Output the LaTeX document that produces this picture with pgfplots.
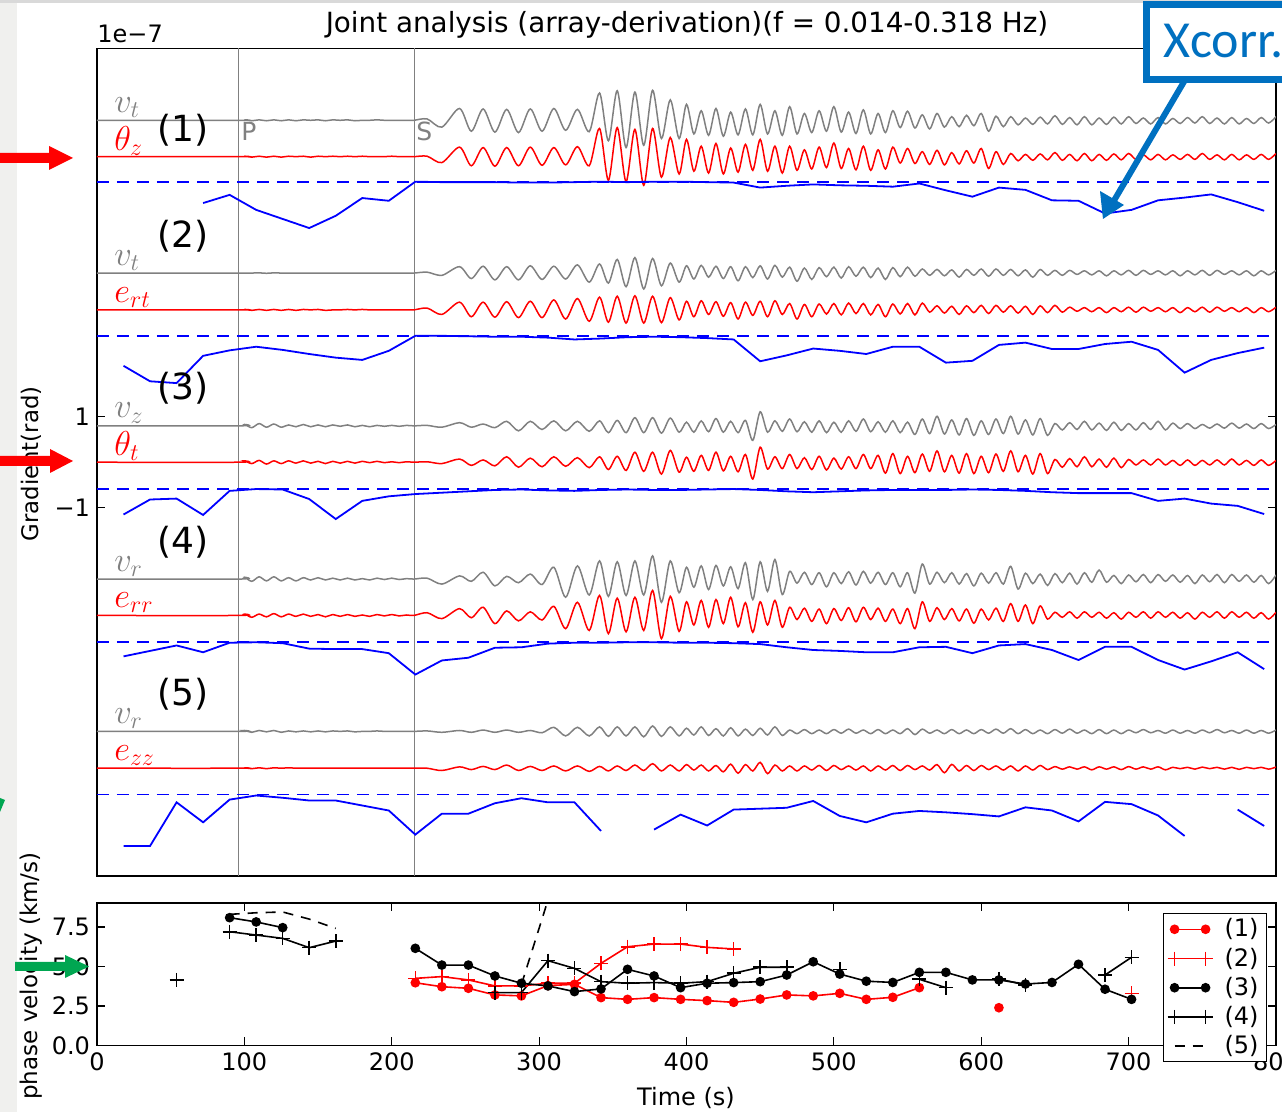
\documentclass[border=0pt]{standalone}
\usepackage{fontspec}
\setmainfont{DejaVu Sans}
\newfontfamily\carlito{Carlito}
\usepackage{pgfplots}
\pgfplotsset{compat=1.18}
\usepackage{pgfplotstable}

\definecolor{mgray}{gray}{0.5}
\definecolor{pblue}{RGB}{0,0,255}
\definecolor{pred}{RGB}{255,0,0}
\definecolor{xblue}{RGB}{0,112,192}
\definecolor{agreen}{RGB}{0,166,81}
\definecolor{strip}{RGB}{240,240,238}

% trace deviations: a v_t(1), b theta_z, c v_t(2), d e_rt, e v_z, f theta_t,
% g v_r(4), h e_rr, i v_r(5), j e_zz
\pgfplotstableread{
t a b c d e f g h i j
0 0 0 0 0 0 0 0 0 0 0
96 0 0 0 0 0 0 0 0 0 0
100 0.01 0.01 0 0.01 0.03 0.03 0.04 0.03 0.02 0.01
105 -0.01 -0.01 0 -0.01 -0.04 -0.03 -0.05 -0.04 -0.02 -0.01
110 0.01 0.01 0.005 0.01 0.05 0.04 0.05 0.03 0.02 0.01
115 -0.01 -0.01 -0.005 -0.01 -0.03 -0.04 -0.04 -0.03 -0.01 -0.01
120 0.01 0.01 0.005 0.01 0.04 0.03 0.05 0.04 0.02 0.01
125 -0.01 -0.01 0 -0.01 -0.03 -0.03 -0.04 -0.03 -0.02 0
130 0.01 0.01 0 0.01 0.02 0.03 0.03 0.03 0.01 0.01
135 -0.01 0 0 -0.01 -0.02 -0.02 -0.04 -0.02 -0.01 0
140 0.01 0.01 0 0.01 0.03 0.03 0.03 0.03 0.01 0
145 0 -0.01 0 0 -0.02 -0.02 -0.02 -0.02 -0.01 0
150 0.01 0.01 0 0.01 0.02 0.02 0.03 0.02 0.01 0
155 -0.01 0 0 -0.01 -0.02 -0.03 -0.02 -0.03 -0.01 0
160 0.01 0.01 0 0 0.02 0.02 0.02 0.02 0.01 0
165 0 0 0 0 -0.01 -0.02 -0.02 -0.02 0 0
170 0.01 0.01 0 0.01 0.02 0.02 0.02 0.02 0.01 0
175 -0.01 0 0 0 -0.02 -0.02 -0.02 -0.02 -0.01 0
180 0 0.01 0 0.01 0.01 0.02 0.01 0.01 0 0
185 0 0 0 0 -0.02 -0.01 -0.02 -0.02 0 0
190 0.01 0 0 0 0.01 0.02 0.02 0.02 0.01 0
195 0 0 0 0 -0.01 -0.01 -0.01 -0.01 0 0
200 0 0.01 0 0 0.01 0.01 0.02 0.02 0 0
205 0 0 0 0 -0.01 -0.01 -0.01 -0.01 0 0
210 0 0 0 0 0.01 0.01 0.01 0.01 0 0
215 0 0 0 0 0 0 0 0 0 0
224 0.03 0.01 0.02 0.04 0.01 0.01 0.02 0.06 0.01 0
234 -0.15 -0.13 -0.05 -0.10 -0.03 -0.03 -0.11 -0.07 -0.02 -0.05
246 0.26 0.21 0.14 0.17 0.07 0.07 0.07 0.15 0.02 0.03
254 -0.24 -0.20 -0.12 -0.15 -0.03 -0.07 -0.05 -0.05 -0.02 -0.03
262 0.25 0.20 0.15 0.17 0.04 0.05 0.15 0.18 0.03 0.04
270 -0.26 -0.21 -0.15 -0.16 -0.04 -0.08 -0.15 -0.18 -0.02 -0.03
278 0.24 0.20 0.14 0.18 0.10 0.12 0.06 0.10 0.03 0.07
286 -0.27 -0.20 -0.15 -0.17 -0.11 -0.11 -0.08 -0.12 -0.02 -0.05
294 0.25 0.21 0.16 0.19 0.10 0.09 0.11 0.08 0.02 0.04
302 -0.24 -0.19 -0.14 -0.17 -0.08 -0.10 -0.12 -0.10 -0.03 -0.05
310 0.26 0.20 0.15 0.22 0.11 0.12 0.26 0.20 0.09 0.05
318 -0.22 -0.18 -0.13 -0.20 -0.11 -0.09 -0.40 -0.29 -0.10 -0.06
326 0.24 0.22 0.18 0.25 0.10 0.10 0.29 0.29 0.09 0.05
334 -0.25 -0.20 -0.20 -0.25 -0.12 -0.12 -0.35 -0.33 -0.10 -0.07
341 0.60 0.62 0.20 0.28 0.11 0.12 0.40 0.44 0.10 0.04
347 -0.45 -0.52 -0.22 -0.27 -0.15 -0.16 -0.38 -0.40 -0.11 -0.06
353 0.65 0.64 0.30 0.30 0.12 0.13 0.38 0.38 0.10 0.05
359 -0.60 -0.55 -0.30 -0.29 -0.15 -0.18 -0.36 -0.36 -0.10 -0.05
365 0.62 0.60 0.34 0.31 0.18 0.22 0.40 0.40 0.10 0.07
371 -0.55 -0.63 -0.35 -0.29 -0.15 -0.20 -0.35 -0.33 -0.12 -0.05
377 0.66 0.62 0.32 0.30 0.18 0.22 0.51 0.55 0.12 0.10
383 -0.40 -0.45 -0.28 -0.28 -0.16 -0.26 -0.51 -0.51 -0.11 -0.06
389 0.45 0.42 0.22 0.27 0.17 0.26 0.40 0.42 0.10 0.07
395 -0.40 -0.38 -0.20 -0.22 -0.14 -0.22 -0.30 -0.35 -0.10 -0.06
400 0.35 0.38 0.16 0.19 0.08 0.11 0.26 0.30 0.07 0.08
405 -0.30 -0.32 -0.13 -0.15 -0.14 -0.20 -0.18 -0.21 -0.08 -0.04
410 0.21 0.23 0.17 0.20 0.11 0.15 0.29 0.33 0.10 0.07
415 -0.33 -0.36 -0.09 -0.10 -0.13 -0.18 -0.23 -0.26 -0.09 -0.06
420 0.26 0.29 0.15 0.18 0.16 0.22 0.30 0.35 0.06 0.06
425 -0.35 -0.38 -0.12 -0.14 -0.14 -0.19 -0.15 -0.18 -0.10 -0.08
430 0.18 0.19 0.14 0.16 0.10 0.13 0.27 0.40 0.08 0.09
435 -0.32 -0.34 -0.17 -0.20 -0.15 -0.21 -0.21 -0.25 -0.10 -0.11
440 0.25 0.27 0.14 0.17 0.12 0.17 0.36 0.28 0.05 0.08
445 -0.32 -0.30 -0.10 -0.12 -0.32 -0.37 -0.45 -0.37 -0.09 -0.06
450 0.35 0.38 0.16 0.19 0.31 0.33 0.38 0.30 0.07 0.13
455 -0.30 -0.32 -0.13 -0.15 -0.14 -0.15 -0.27 -0.21 -0.08 -0.12
460 0.21 0.23 0.17 0.20 0.11 0.12 0.43 0.33 0.10 0.07
465 -0.33 -0.36 -0.09 -0.10 -0.12 -0.14 -0.34 -0.26 -0.09 -0.06
470 0.30 0.23 0.13 0.14 0.15 0.17 0.17 0.18 0.03 0.05
475 -0.30 -0.30 -0.18 -0.20 -0.13 -0.14 -0.09 -0.09 -0.05 -0.06
480 0.15 0.15 0.11 0.12 0.09 0.10 0.15 0.16 0.04 0.05
485 -0.27 -0.27 -0.14 -0.15 -0.14 -0.16 -0.12 -0.13 -0.05 -0.04
490 0.21 0.21 0.12 0.13 0.11 0.13 0.14 0.14 0.03 0.06
495 -0.24 -0.24 -0.08 -0.09 -0.15 -0.17 -0.17 -0.18 -0.05 -0.05
500 0.30 0.30 0.13 0.14 0.08 0.09 0.14 0.15 0.04 0.06
505 -0.26 -0.26 -0.11 -0.11 -0.14 -0.15 -0.10 -0.11 -0.04 -0.03
510 0.18 0.18 0.14 0.15 0.11 0.12 0.16 0.17 0.05 0.05
515 -0.29 -0.29 -0.07 -0.08 -0.12 -0.14 -0.13 -0.14 -0.04 -0.04
520 0.23 0.23 0.13 0.14 0.15 0.17 0.17 0.18 0.03 0.05
525 -0.30 -0.30 -0.10 -0.11 -0.13 -0.14 -0.09 -0.09 -0.05 -0.06
530 0.15 0.15 0.11 0.12 0.09 0.15 0.15 0.16 0.04 0.05
535 -0.27 -0.27 -0.14 -0.15 -0.14 -0.24 -0.12 -0.13 -0.05 -0.04
540 0.21 0.21 0.12 0.13 0.11 0.19 0.14 0.14 0.03 0.06
545 -0.16 -0.14 -0.08 -0.09 -0.15 -0.25 -0.17 -0.18 -0.05 -0.05
550 0.20 0.18 0.13 0.14 0.08 0.13 0.14 0.15 0.06 0.06
555 -0.17 -0.15 -0.07 -0.11 -0.19 -0.23 -0.31 -0.29 -0.07 -0.03
560 0.12 0.11 0.09 0.15 0.15 0.18 0.33 0.30 0.05 0.05
565 -0.19 -0.17 -0.05 -0.05 -0.17 -0.20 -0.11 -0.13 -0.04 -0.04
570 0.15 0.14 0.08 0.09 0.21 0.25 0.15 0.17 0.03 0.08
575 -0.15 -0.18 -0.06 -0.07 -0.18 -0.21 -0.08 -0.09 -0.05 -0.10
580 0.08 0.09 0.07 0.08 0.13 0.15 0.14 0.15 0.04 0.085
585 -0.14 -0.16 -0.09 -0.10 -0.20 -0.24 -0.11 -0.12 -0.05 -0.06
590 0.11 0.13 0.08 0.09 0.16 0.19 0.12 0.14 0.03 0.06
595 -0.12 -0.14 -0.05 -0.06 -0.21 -0.25 -0.15 -0.17 -0.05 -0.05
600 0.15 0.18 0.09 0.10 0.11 0.13 0.13 0.14 0.04 0.06
605 -0.24 -0.26 -0.07 -0.08 -0.19 -0.23 -0.09 -0.10 -0.04 -0.03
610 0.09 0.11 0.09 0.10 0.15 0.18 0.14 0.16 0.05 0.05
615 -0.14 -0.17 -0.05 -0.05 -0.17 -0.20 -0.11 -0.13 -0.04 -0.04
620 0.08 0.07 0.08 0.09 0.21 0.25 0.28 0.26 0.06 0.05
625 -0.10 -0.09 -0.06 -0.07 -0.18 -0.21 -0.22 -0.13 -0.05 -0.06
630 0.05 0.05 0.07 0.08 0.13 0.15 0.13 0.23 0.04 0.05
635 -0.09 -0.08 -0.09 -0.10 -0.20 -0.26 -0.10 -0.18 -0.05 -0.04
640 0.07 0.06 0.08 0.09 0.16 0.19 0.11 0.21 0.03 0.06
645 -0.08 -0.07 -0.05 -0.06 -0.21 -0.25 -0.14 -0.08 -0.05 -0.03
650 0.10 0.09 0.06 0.10 0.05 0.06 0.12 0.07 0.04 0.035
655 -0.09 -0.08 -0.05 -0.05 -0.09 -0.11 -0.08 -0.04 -0.04 -0.02
660 0.06 0.05 0.06 0.06 0.07 0.08 0.13 0.08 0.05 0.03
665 -0.10 -0.09 -0.03 -0.03 -0.08 -0.10 -0.11 -0.06 -0.04 -0.02
670 0.08 0.07 0.05 0.05 0.10 0.12 0.14 0.08 0.03 0.03
675 -0.10 -0.09 -0.04 -0.04 -0.09 -0.10 -0.07 -0.04 -0.05 -0.035
680 0.05 0.05 0.05 0.05 0.06 0.07 0.20 0.07 0.04 0.03
685 -0.09 -0.08 -0.06 -0.06 -0.10 -0.11 -0.07 -0.06 -0.05 -0.02
690 0.07 0.06 0.05 0.05 0.08 0.09 0.08 0.06 0.03 0.03
695 -0.08 -0.07 -0.04 -0.04 -0.10 -0.12 -0.10 -0.08 -0.05 -0.03
700 0.08 0.07 0.06 0.06 0.05 0.06 0.09 0.07 0.03 0.035
705 -0.07 -0.06 -0.05 -0.05 -0.09 -0.06 -0.06 -0.04 -0.03 -0.02
710 0.05 0.04 0.06 0.06 0.07 0.05 0.10 0.08 0.04 0.03
715 -0.08 -0.07 -0.03 -0.03 -0.08 -0.06 -0.08 -0.06 -0.03 -0.02
720 0.06 0.05 0.05 0.05 0.10 0.07 0.10 0.08 0.02 0.03
725 -0.08 -0.07 -0.04 -0.04 -0.09 -0.06 -0.05 -0.04 -0.04 -0.035
730 0.04 0.04 0.05 0.05 0.06 0.04 0.09 0.07 0.03 0.02
735 -0.07 -0.06 -0.06 -0.06 -0.06 -0.07 -0.07 -0.06 -0.04 -0.01
740 0.06 0.05 0.05 0.05 0.05 0.05 0.08 0.06 0.02 0.02
745 -0.06 -0.06 -0.04 -0.04 -0.06 -0.07 -0.10 -0.08 -0.04 -0.02
750 0.08 0.07 0.06 0.06 0.03 0.04 0.09 0.07 0.03 0.025
755 -0.07 -0.06 -0.05 -0.05 -0.05 -0.06 -0.06 -0.04 -0.03 -0.01
760 0.05 0.04 0.06 0.06 0.04 0.05 0.10 0.08 0.04 0.02
765 -0.08 -0.07 -0.03 -0.03 -0.05 -0.06 -0.08 -0.06 -0.03 -0.02
770 0.06 0.05 0.05 0.05 0.06 0.07 0.10 0.08 0.02 0.02
775 -0.08 -0.07 -0.04 -0.04 -0.05 -0.06 -0.05 -0.04 -0.04 -0.025
780 0.04 0.04 0.05 0.05 0.04 0.04 0.09 0.07 0.03 0.02
785 -0.07 -0.06 -0.06 -0.06 -0.06 -0.07 -0.07 -0.06 -0.04 -0.01
790 0.06 0.05 0.05 0.05 0.05 0.05 0.08 0.06 0.02 0.02
795 -0.06 -0.06 -0.04 -0.04 -0.06 -0.07 -0.10 -0.08 -0.04 -0.02
800 0.08 0.07 0.06 0.06 0.03 0.04 0.09 0.07 0.03 0.025
}\waves

\begin{document}
\begin{tikzpicture}[x=0.5pt,y=0.5pt]
\fill[strip] (0,0) rectangle (17,1112);
\fill[gray!30] (0,1108.5) rectangle (1282,1112);

% ---------------- top panel ----------------
\begin{axis}[
    at={(48.5pt,118pt)}, anchor=south west, scale only axis,
    width=589.5pt, height=413.75pt,
    xmin=0, xmax=800, ymin=-9.1, ymax=9.1,
    xtick=\empty, ytick={-1,1}, yticklabels={−1,1},
    tick align=inside, ytick pos=both, major tick length=4pt,
    tick style={black, line width=0.6pt},
    axis line style={black, line width=0.8pt},
    tick label style={font=\fontsize{12}{14}\selectfont},
    unbounded coords=jump,
    xcorr/.style={pblue, line width=0.9pt},
    ones/.style={pblue, line width=0.85pt, dash pattern=on 6pt off 4pt},
]
% P and S picks
\addplot[mgray, line width=0.8pt] coordinates {(96,-9.1) (96,9.1)};
\addplot[mgray, line width=0.8pt] coordinates {(215.5,-9.1) (215.5,9.1)};

% (1)
\addplot[mgray, line width=0.75pt, smooth] table[x=t, y expr=\thisrow{a}+7.52] {\waves};
\addplot[pred, line width=0.75pt, smooth] table[x=t, y expr=\thisrow{b}+6.72] {\waves};
\addplot[xcorr] coordinates {
(72,5.70)(90,5.88)(108,5.55)(126,5.35)(144,5.15)(162,5.42)(180,5.81)(198,5.75)
(216,6.17)(234,6.16)(252,6.16)(270,6.16)(288,6.15)(306,6.15)(324,6.16)(342,6.17)
(360,6.16)(378,6.17)(396,6.17)(414,6.16)(432,6.15)(450,6.04)(468,6.08)(486,6.11)
(504,6.09)(522,6.08)(540,6.06)(558,6.13)(576,5.98)(594,5.84)(612,6.04)(630,5.99)
(648,5.76)(666,5.75)(684,5.47)(702,5.55)(720,5.76)(738,5.82)(756,5.89)(774,5.72)(792,5.53)};
\addplot[ones] coordinates {(0,6.165) (800,6.165)};

% (2)
\addplot[mgray, line width=0.75pt, smooth] table[x=t, y expr=\thisrow{c}+4.16] {\waves};
\addplot[pred, line width=0.75pt, smooth] table[x=t, y expr=\thisrow{d}+3.35] {\waves};
\addplot[ones] coordinates {(0,2.78) (800,2.78)};
\addplot[xcorr] coordinates {
(18,2.12)(36,1.78)(54,1.74)(72,2.34)(90,2.46)(108,2.54)(126,2.47)(144,2.38)(162,2.30)
(180,2.25)(198,2.45)(216,2.78)(234,2.78)(252,2.77)(270,2.76)(288,2.76)(306,2.74)
(324,2.70)(342,2.72)(360,2.75)(378,2.76)(396,2.75)(414,2.73)(432,2.70)(450,2.22)
(468,2.35)(486,2.50)(504,2.45)(522,2.38)(540,2.54)(558,2.54)(576,2.19)(594,2.23)
(612,2.58)(630,2.63)(648,2.49)(666,2.49)(684,2.60)(702,2.65)(720,2.47)(738,1.97)
(756,2.25)(774,2.40)(792,2.52)};

% (3)
\addplot[mgray, line width=0.75pt, smooth] table[x=t, y expr=\thisrow{e}+0.80] {\waves};
\addplot[pred, line width=0.75pt, smooth] table[x=t, y expr=\thisrow{f}] {\waves};
\addplot[ones] coordinates {(0,-0.59) (800,-0.59)};
\addplot[xcorr] coordinates {
(18,-1.15)(36,-0.82)(54,-0.80)(72,-1.16)(90,-0.63)(108,-0.59)(126,-0.60)(144,-0.81)
(162,-1.25)(180,-0.85)(198,-0.75)(216,-0.70)(234,-0.67)(252,-0.64)(270,-0.61)(288,-0.60)
(306,-0.62)(324,-0.63)(342,-0.61)(360,-0.60)(378,-0.61)(396,-0.61)(414,-0.60)(432,-0.59)
(450,-0.61)(468,-0.64)(486,-0.66)(504,-0.64)(522,-0.62)(540,-0.61)(558,-0.61)(576,-0.61)
(594,-0.60)(612,-0.61)(630,-0.63)(648,-0.66)(666,-0.68)(684,-0.68)(702,-0.68)(720,-0.85)
(738,-0.80)(756,-0.91)(774,-0.96)(792,-1.14)};

% (4)
\addplot[mgray, line width=0.75pt, smooth] table[x=t, y expr=\thisrow{g}-2.57] {\waves};
\addplot[pred, line width=0.75pt, smooth] table[x=t, y expr=\thisrow{h}-3.37] {\waves};
\addplot[ones] coordinates {(0,-3.96) (800,-3.96)};
\addplot[xcorr] coordinates {
(18,-4.27)(36,-4.15)(54,-4.03)(72,-4.18)(90,-3.97)(108,-3.96)(126,-3.98)(144,-4.10)
(162,-4.11)(180,-4.11)(198,-4.20)(216,-4.67)(234,-4.36)(252,-4.30)(270,-4.08)(288,-4.07)
(306,-3.99)(324,-3.97)(342,-3.97)(360,-3.96)(378,-3.96)(396,-3.97)(414,-3.97)(432,-3.98)
(450,-4.00)(468,-4.07)(486,-4.13)(504,-4.15)(522,-4.18)(540,-4.18)(558,-4.07)(576,-4.06)
(594,-4.20)(612,-4.03)(630,-4.00)(648,-4.13)(666,-4.35)(684,-4.06)(702,-4.06)(720,-4.35)
(738,-4.56)(756,-4.38)(774,-4.18)(792,-4.55)};

% (5)
\addplot[mgray, line width=0.75pt, smooth] table[x=t, y expr=\thisrow{i}-5.92] {\waves};
\addplot[pred, line width=0.75pt, smooth] table[x=t, y expr=\thisrow{j}-6.73] {\waves};
\addplot[ones] coordinates {(0,-7.31) (800,-7.31)};
\addplot[xcorr] coordinates {
(18,-8.44)(36,-8.44)(54,-7.48)(72,-7.92)(90,-7.42)(108,-7.33)(126,-7.38)(144,-7.44)
(162,-7.44)(180,-7.55)(198,-7.66)(216,-8.19)(234,-7.73)(252,-7.73)(270,-7.50)(288,-7.39)
(306,-7.48)(324,-7.48)(342,-8.11)(360,nan)(378,-8.08)(396,-7.75)(414,-7.99)(432,-7.64)
(450,-7.62)(468,-7.60)(486,-7.45)(504,-7.78)(522,-7.92)(540,-7.73)(558,-7.67)(576,-7.70)
(594,-7.74)(612,-7.79)(630,-7.59)(648,-7.66)(666,-7.90)(684,-7.47)(702,-7.52)(720,-7.77)
(738,-8.22)(756,nan)(774,-7.64)(792,-8.00)};

% labels
\begin{scope}[every node/.style={anchor=south west, inner sep=0pt, font=\fontsize{17}{17}\selectfont}]
\node[text=mgray] at (axis cs:11.5,7.57) {$v_t$};
\node[text=pred]  at (axis cs:11.5,6.74) {$\theta_z$};
\node[text=mgray] at (axis cs:11.5,4.21) {$v_t$};
\node[text=pred]  at (axis cs:11.5,3.40) {$e_{rt}$};
\node[text=mgray] at (axis cs:11.5,0.85) {$v_z$};
\node[text=pred]  at (axis cs:11.5,0.03) {$\theta_t$};
\node[text=mgray] at (axis cs:11.5,-2.52) {$v_r$};
\node[text=pred]  at (axis cs:11.5,-3.32) {$e_{rr}$};
\node[text=mgray] at (axis cs:11.5,-5.87) {$v_r$};
\node[text=pred]  at (axis cs:11.5,-6.68) {$e_{zz}$};
\end{scope}
\begin{scope}[every node/.style={font=\fontsize{18}{18}\selectfont}]
\node at (axis cs:58.3,7.31) {(1)};
\node at (axis cs:58.3,4.96) {(2)};
\node at (axis cs:58.3,1.62) {(3)};
\node at (axis cs:58.3,-1.75) {(4)};
\node at (axis cs:58.3,-5.11) {(5)};
\end{scope}
\node[anchor=base west, inner sep=0pt, text=mgray, font=\fontsize{12.5}{12.5}\selectfont] at (axis cs:97.7,7.07) {P};
\node[anchor=base west, inner sep=0pt, text=mgray, font=\fontsize{12.5}{12.5}\selectfont] at (axis cs:216.4,7.07) {S};
\end{axis}

% ---------------- bottom panel ----------------
\begin{axis}[
    at={(48.5pt,33.25pt)}, anchor=south west, scale only axis,
    width=589.5pt, height=71.1pt,
    xmin=0, xmax=800, ymin=0, ymax=9,
    xtick={0,100,...,800}, xticklabels={0,100,200,300,400,500,600,700,800},
    ytick={0,2.5,5,7.5}, yticklabels={0.0,2.5,5.0,7.5},
    tick align=inside, tick pos=both, major tick length=4pt,
    tick style={black, line width=0.6pt},
    axis line style={black, line width=0.8pt},
    tick label style={font=\fontsize{12}{14}\selectfont},
    unbounded coords=jump,
    legend style={at={(1,1)}, anchor=north east, xshift=-4.5pt, yshift=-5pt,
        font=\fontsize{12}{14}\selectfont, draw=black, fill=white,
        inner xsep=2pt, inner ysep=0.5pt, row sep=0pt, column sep=4pt,
        cells={anchor=west}},
    legend image code/.code={\draw[#1] plot coordinates {(0pt,0pt) (15.5pt,0pt)};},
]
\addplot[pred, line width=0.8pt, mark=*, mark size=2pt] coordinates {
(216,3.97)(234,3.72)(252,3.62)(270,3.20)(288,3.14)(306,3.79)(324,3.87)(342,3.03)
(360,2.92)(378,3.03)(396,2.92)(414,2.84)(432,2.73)(450,2.94)(468,3.20)(486,3.14)
(504,3.30)(522,2.92)(540,3.05)(558,3.66)(576,nan)(612,2.39)};
\addlegendentry{(1)}
\addplot[pred, line width=0.8pt, mark=+, mark size=3.5pt] coordinates {
(216,4.25)(234,4.36)(252,4.15)(270,3.77)(288,3.77)(306,3.94)(324,3.94)(342,5.20)
(360,6.25)(378,6.42)(396,6.42)(414,6.21)(432,6.11)(450,nan)(702,3.30)};
\addlegendentry{(2)}
\addplot[black, line width=0.8pt, mark=*, mark size=2pt] coordinates {
(90,8.09)(108,7.82)(126,7.46)(144,nan)
(216,6.15)(234,5.09)(252,5.09)(270,4.40)(288,3.94)(306,3.77)(324,3.41)(342,3.58)
(360,4.82)(378,4.40)(396,3.66)(414,3.94)(432,3.98)(450,4.04)(468,4.46)(486,5.30)
(504,4.52)(522,4.07)(540,3.99)(558,4.63)(576,4.63)(594,4.15)(612,4.15)(630,3.89)
(648,3.99)(666,5.14)(684,3.56)(702,2.92)};
\addlegendentry{(3)}
\addplot[black, line width=0.8pt, mark=+, mark size=3.5pt] coordinates {
(54,4.15)(72,nan)(90,7.20)(108,6.99)(126,6.78)(144,6.19)(162,6.61)(180,nan)
(270,3.35)(288,3.35)(306,5.37)(324,4.88)(342,4.04)(360,3.94)(378,3.98)(396,3.94)
(414,4.04)(432,4.57)(450,4.95)(468,4.95)(486,nan)(504,4.82)(522,nan)
(558,4.19)(576,3.66)(594,nan)(612,4.21)(630,3.83)(648,nan)(684,4.46)(702,5.58)};
\addlegendentry{(4)}
\addplot[black, line width=0.8pt, dash pattern=on 5pt off 4pt] coordinates {
(90,8.30)(108,8.40)(126,8.45)(144,8.00)(162,7.41)(180,nan)(288,3.86)(306,9.20)};
\addlegendentry{(5)}
\end{axis}

% titles and axis labels
\node[anchor=base, font=\fontsize{13.9}{16}\selectfont] at (687,1079) {Joint analysis (array-derivation)(f = 0.014-0.318 Hz)};
\node[anchor=base west, inner sep=0pt, font=\fontsize{12}{14}\selectfont] at (97,1069) {1e−7};
\node[rotate=90, font=\fontsize{11.4}{14}\selectfont] at (31,648) {Gradient(rad)};
\node[rotate=90, font=\fontsize{11.5}{14}\selectfont] at (31,136) {phase velocity (km/s)};
\node[font=\fontsize{12}{14}\selectfont] at (686,14) {Time (s)};

% annotations
\fill[red] (0,949) -- (49,949) -- (49,942) -- (73,954) -- (49,966) -- (49,959) -- (0,959) -- cycle;
\fill[red] (0,646) -- (50,646) -- (50,639) -- (73,651) -- (50,663) -- (50,656) -- (0,656) -- cycle;
\fill[agreen] (15,141) -- (65,141) -- (65,134) -- (89,145.5) -- (65,157) -- (65,150) -- (15,150) -- cycle;
\fill[agreen] (0,300) -- (5,312) -- (0,314) -- cycle;
\draw[xblue, line width=3pt] (1185,1032) -- (1112,908);
\fill[xblue] (1103,893) -- (1100,921) -- (1124,907) -- cycle;
\draw[xblue, line width=3.5pt, fill=white] (1146,1107) rectangle (1320,1032);
\node[anchor=base west, inner sep=0pt, text=xblue, font=\carlito\fontsize{26}{26}\selectfont] at (1163,1054) {Xcorr.};

\pgfresetboundingbox
\useasboundingbox (0,0) rectangle (1282,1112);
\end{tikzpicture}
\end{document}
